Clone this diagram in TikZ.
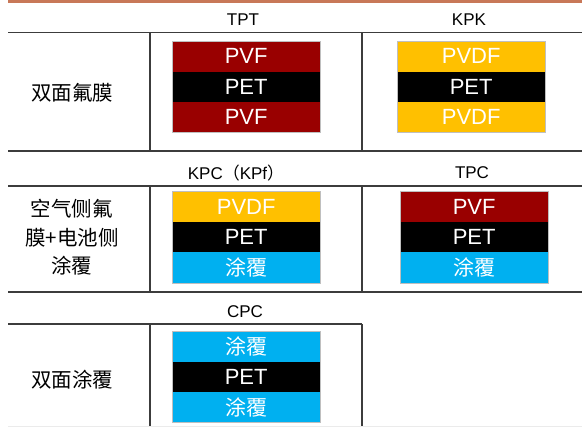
\documentclass[tikz,border=0pt]{standalone}
\usepackage{fontspec}
\setmainfont{Liberation Sans}
\newfontfamily\cjk{Noto Sans CJK SC}
\definecolor{topbar}{RGB}{200,120,88}
\definecolor{pvf}{RGB}{153,0,0}
\definecolor{pvdf}{RGB}{255,192,0}
\definecolor{coat}{RGB}{0,176,240}
\definecolor{rulec}{RGB}{60,60,60}
\begin{document}
\begin{tikzpicture}[x=1pt,y=-1pt,
  layer/.style={minimum width=148pt,minimum height=30.33pt,inner sep=0pt,anchor=north west,
    text=white,font=\fontsize{22}{22}\selectfont},
  redl/.style={layer,fill=pvf},
  orl/.style={layer,fill=pvdf},
  blkl/.style={layer,fill=black},
  cyl/.style={layer,fill=coat,font=\cjk\fontsize{21}{21}\selectfont},
  stackframe/.style={draw=black!25,line width=0.5pt},
  head/.style={font=\fontsize{17}{17}\selectfont,inner sep=0pt},
  side/.style={font=\cjk\fontsize{20.5}{28.5}\selectfont,align=center,inner sep=0pt},
  rulel/.style={draw=rulec,line width=1.8pt}]
\useasboundingbox (0,0) rectangle (582,427);
% top bar
\fill[topbar] (8,0) rectangle (582,3);
% ---- row 1 ----
\node[head] (h1) at (243,20) {TPT};
\node[head] (h2) at (469,20) {KPK};
\draw[rulel] (8,32.5) -- (582,32.5);
\draw[rulel] (8,151) -- (582,151);
\draw[rulel] (150,32.5) -- (150,151);
\draw[rulel] (362,32.5) -- (362,151);
\node[side] (s1) at (72,93) {双面氟膜};
\node[redl] (a1) at (172,41) {PVF};
\node[blkl] (a2) at (172,71.33) {PET};
\node[redl] (a3) at (172,101.67) {PVF};
\draw[stackframe] (a1.north west) rectangle (a3.south east);
\node[orl] (b1) at (397,41) {PVDF};
\node[blkl] (b2) at (397,71.33) {PET};
\node[orl] (b3) at (397,101.67) {PVDF};
\draw[stackframe] (b1.north west) rectangle (b3.south east);
% ---- row 2 ----
\node[head] (h3) at (236,173) {KPC{\cjk （}KPf{\cjk ）}};
\node[head] (h4) at (472,173) {TPC};
\draw[rulel] (8,186) -- (582,186);
\draw[rulel] (8,291.7) -- (582,291.7);
\draw[rulel] (150,186) -- (150,291.7);
\draw[rulel] (362,186) -- (362,291.7);
\node[side] (s2) at (72,237.5) {空气侧氟\\膜+电池侧\\涂覆};
\node[orl] (c1) at (172,191.5) {PVDF};
\node[blkl] (c2) at (172,221.83) {PET};
\node[cyl] (c3) at (172,252.17) {涂覆};
\draw[stackframe] (c1.north west) rectangle (c3.south east);
\node[redl] (d1) at (400,191.5) {PVF};
\node[blkl] (d2) at (400,221.83) {PET};
\node[cyl] (d3) at (400,252.17) {涂覆};
\draw[stackframe] (d1.north west) rectangle (d3.south east);
% ---- row 3 ----
\node[head] (h5) at (245,312) {CPC};
\draw[rulel] (8,324.3) -- (362,324.3);
\draw[rulel] (150,324.3) -- (150,427);
\draw[rulel] (362,324.3) -- (362,427);
\draw[black!8,line width=1pt] (8,426.5) -- (582,426.5);
\node[side] (s3) at (72,380) {双面涂覆};
\node[cyl] (e1) at (172,331) {涂覆};
\node[blkl] (e2) at (172,361.33) {PET};
\node[cyl] (e3) at (172,391.67) {涂覆};
\draw[stackframe] (e1.north west) rectangle (e3.south east);
\end{tikzpicture}
\end{document}
